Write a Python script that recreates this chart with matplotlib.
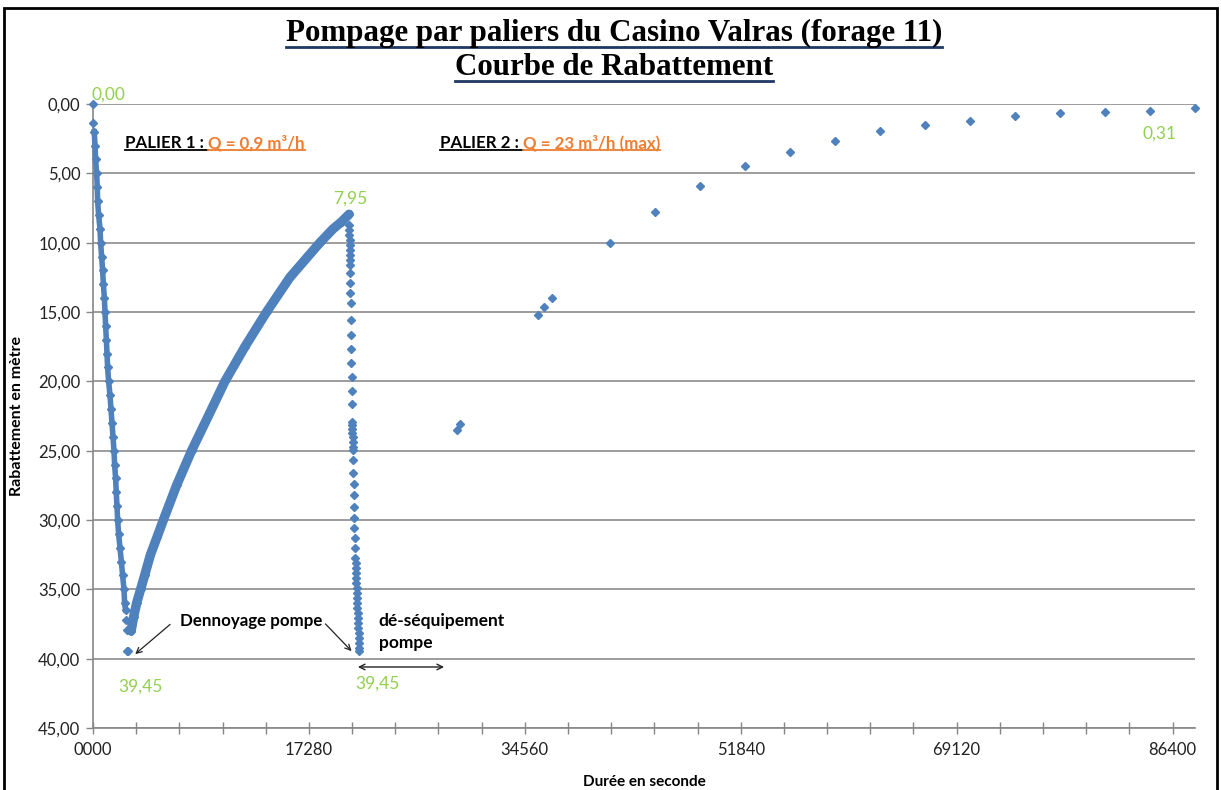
import matplotlib
matplotlib.use("Agg")
import matplotlib.pyplot as plt
from matplotlib.lines import Line2D
from matplotlib.patches import Rectangle
from matplotlib.ticker import MultipleLocator, FuncFormatter

plt.rcParams['font.family'] = ['Lato', 'DejaVu Sans']

# Palier 1 : pompage (debut du rabattement)
start_t = [0, 20]
start_s = [0.00, 1.40]

p1_t = [100, 160, 210, 290, 340, 370, 450, 560, 610, 690, 770, 830, 910, 960,
        1010, 1070, 1120, 1170, 1250, 1360, 1440, 1520, 1600, 1680, 1730, 1810,
        1860, 1920, 1970, 2050, 2160, 2270, 2370, 2480, 2530, 2610]
p1_s = [2.0, 3.0, 4.0, 5.0, 6.0, 7.0, 8.0, 9.0, 10.0, 11.0, 12.0, 13.0, 14.0, 15.0,
        16.0, 17.0, 18.0, 19.0, 20.0, 21.0, 22.0, 23.0, 24.0, 25.0, 26.0, 27.0,
        28.0, 29.0, 30.0, 31.0, 32.0, 33.0, 34.0, 35.0, 36.0, 36.5]

# dennoyage de la pompe
dry_t = [2640, 2690, 2700, 2800, 2960, 3020]
dry_s = [37.2, 37.9, 39.45, 39.45, 37.3, 38.0]

# remontee apres arret
rec_t = [3050, 3250, 3490, 3810, 4130, 4600, 5140, 5630, 6690, 7890, 9230, 10560,
         12160, 13890, 15760, 18160, 19220, 19890, 20500]
rec_s = [38.0, 37.0, 36.0, 35.0, 34.0, 32.5, 31.2, 30.0, 27.5, 25.0, 22.5, 20.0,
         17.5, 15.0, 12.5, 10.0, 9.0, 8.5, 7.95]

# Palier 2 : Q = 23 m3/h
p2_t = [20510, 20520, 20520, 20530, 20530, 20540, 20540, 20550, 20550, 20560,
        20570, 20590, 20610, 20630, 20650, 20660, 20680, 20700, 20720, 20730,
        20740, 20750, 20750, 20760, 20770, 20780, 20790, 20800, 20810, 20830,
        20850, 20860, 20880, 20900, 20920, 20950, 20970, 21000, 21020, 21040,
        21050, 21070, 21080, 21100, 21110, 21130, 21150, 21160, 21180, 21200,
        21210, 21230, 21250, 21260, 21280, 21290, 21300]
p2_s = [8.72, 9.08, 9.44, 9.81, 10.17, 10.53, 10.89, 11.25, 11.61, 12.21,
        12.93, 13.65, 14.37, 15.57, 16.65, 17.66, 18.70, 19.71, 20.69, 21.63,
        22.90, 23.14, 23.46, 23.74, 23.98, 24.35, 24.71, 24.95, 25.67, 26.63,
        27.40, 28.19, 29.04, 29.87, 30.59, 31.31, 32.03, 32.75, 33.12, 33.48,
        33.84, 34.20, 34.56, 34.92, 35.28, 35.64, 36.00, 36.36, 36.72, 37.08,
        37.44, 37.80, 38.16, 38.52, 38.88, 39.24, 39.45]

# remontee apres de-sequipement
late_t = [29100, 29400, 35600, 36100, 36700, 41400, 45000, 48600, 52200, 55800,
          59400, 63000, 66600, 70200, 73800, 77400, 81000, 84600, 88200]
late_s = [23.50, 23.07, 15.21, 14.61, 13.96, 10.00, 7.76, 5.94, 4.50, 3.46,
          2.64, 1.92, 1.51, 1.20, 0.87, 0.67, 0.58, 0.48, 0.31]

blue = '#4F81BD'
green = '#92D050'
orange = '#ED7D31'
gray = '#868686'

fig = plt.figure(figsize=(12.21, 7.9), dpi=100)
ax = fig.add_axes([93 / 1221, 1 - 728 / 790, (1195 - 93) / 1221, (728 - 104) / 790])

mk = dict(marker='D', ms=3.6, color=blue, mec=blue, clip_on=False, zorder=3)
ax.plot(start_t, start_s, ls='none', **mk)
ax.plot(p1_t, p1_s, ls='-', lw=4, **mk)
ax.plot(dry_t, dry_s, ls='none', **mk)
ax.plot(rec_t, rec_s, ls='-', lw=6.8, solid_capstyle='round', **mk)
ax.plot(p2_t, p2_s, ls='none', **mk)
ax.plot(late_t, late_s, ls='none', **mk)

ax.set_xlim(0, 88200)
ax.set_ylim(45, 0)
ax.xaxis.set_major_locator(MultipleLocator(17280))
ax.xaxis.set_minor_locator(MultipleLocator(3456))
ax.yaxis.set_major_locator(MultipleLocator(5))
ax.xaxis.set_major_formatter(FuncFormatter(lambda v, p: '%04d' % int(v)))
ax.yaxis.set_major_formatter(FuncFormatter(lambda v, p: ('%.2f' % v).replace('.', ',')))
ax.tick_params(axis='x', which='both', direction='inout', length=8, width=1,
               color=gray, labelsize=12, pad=6, labelcolor='#222222')
ax.tick_params(axis='y', direction='out', length=5, width=1, color=gray,
               labelsize=12, pad=4, labelcolor='#222222')
ax.grid(axis='y', color='#8C8C8C', lw=1.2)
ax.set_axisbelow(True)
for side in ['top', 'right']:
    ax.spines[side].set_visible(False)
for side in ['left', 'bottom']:
    ax.spines[side].set_color(gray)
    ax.spines[side].set_linewidth(1.2)

ax.set_xlabel('Durée en seconde', fontsize=11, fontweight='bold', labelpad=12)
ax.set_ylabel('Rabattement en mètre', fontsize=11.5, fontweight='bold', labelpad=10)

# valeurs remarquables
lab = dict(color=green, fontsize=12.5, ha='center', va='center')
ax.text(1200, -0.65, '0,00', **lab)
ax.text(20560, 6.85, '7,95', **lab)
ax.text(3840, 42.0, '39,45', **lab)
ax.text(22800, 41.8, '39,45', **lab)
ax.text(85360, 2.16, '0,31', **lab)

# paliers
pal1 = ax.text(2560, 3.4, 'PALIER 1 : ', fontsize=12.2, fontweight='bold', va='bottom')
q1 = ax.annotate('Q = 0,9 m³/h', xy=(1, 0), xycoords=pal1, fontsize=12.2,
                 fontweight='bold', color=orange, va='bottom')
pal2 = ax.text(27760, 3.4, 'PALIER 2 : ', fontsize=12.2, fontweight='bold', va='bottom')
q2 = ax.annotate('Q = 23 m³/h (max)', xy=(1, 0), xycoords=pal2, fontsize=12.2,
                 fontweight='bold', color=orange, va='bottom')

# commentaires
ax.annotate('', xy=(3210, 39.8), xytext=(6340, 37.4),
            arrowprops=dict(arrowstyle='->', color='#222222', lw=0.9))
ax.annotate('', xy=(20850, 39.6), xytext=(18450, 37.35),
            arrowprops=dict(arrowstyle='->', color='#222222', lw=0.9))
ax.text(12670, 37.3, 'Dennoyage pompe', fontsize=12.2, fontweight='bold',
        ha='center', va='center')
ax.text(22860, 38.05, 'dé-séquipement\npompe', fontsize=12.5, fontweight='bold',
        ha='left', va='center', linespacing=1.45)
ax.annotate('', xy=(28100, 40.6), xytext=(21200, 40.6),
            arrowprops=dict(arrowstyle='<->', color='#222222', lw=1.0,
                            shrinkA=0, shrinkB=0))

# titre
t1 = fig.text(614 / 1221, 1 - 41 / 790, 'Pompage par paliers du Casino Valras (forage 11)',
              family=['Liberation Serif', 'DejaVu Serif'], fontsize=22.3,
              fontweight='bold', ha='center', va='baseline')
t2 = fig.text(614 / 1221, 1 - 75 / 790, 'Courbe de Rabattement',
              family=['Liberation Serif', 'DejaVu Serif'], fontsize=22.3,
              fontweight='bold', ha='center', va='baseline')

# cadre
fig.add_artist(Rectangle((4 / 1221, -0.02), 1213 / 1221, 1.02 - 8 / 790,
                         transform=fig.transFigure, fill=False,
                         edgecolor='black', lw=2))

fig.canvas.draw()
renderer = fig.canvas.get_renderer()


def underline(txt, color, gap=1.0, lw=1.3):
    bb = txt.get_window_extent(renderer)
    inv = fig.transFigure.inverted()
    (x0, y0), (x1, _) = inv.transform([(bb.x0, bb.y0 + gap), (bb.x1, bb.y0)])
    fig.add_artist(Line2D([x0, x1], [y0, y0], transform=fig.transFigure,
                          color=color, lw=lw))


underline(t1, '#1F3864', gap=1.5, lw=2)
underline(t2, '#1F3864', gap=1.5, lw=2)
underline(pal1, 'black')
underline(q1, orange)
underline(pal2, 'black')
underline(q2, orange)

fig.savefig('out.png', dpi=100)
